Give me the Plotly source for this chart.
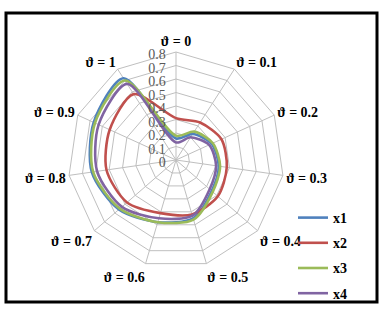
import plotly.graph_objects as go

categories = ["ϑ = 0", "ϑ = 0.1", "ϑ = 0.2", "ϑ = 0.3", "ϑ = 0.4", "ϑ = 0.5",
              "ϑ = 0.6", "ϑ = 0.7", "ϑ = 0.8", "ϑ = 0.9", "ϑ = 1"]
x1 = [0.16, 0.23, 0.29, 0.32, 0.35, 0.45, 0.48, 0.56, 0.63, 0.67, 0.72]
x2 = [0.31, 0.33, 0.37, 0.38, 0.41, 0.42, 0.41, 0.48, 0.52, 0.54, 0.58]
x3 = [0.18, 0.25, 0.30, 0.33, 0.36, 0.46, 0.48, 0.55, 0.62, 0.66, 0.70]
x4 = [0.13, 0.20, 0.27, 0.30, 0.33, 0.43, 0.45, 0.53, 0.59, 0.63, 0.67]
radial_ticks = [0, 0.1, 0.2, 0.3, 0.4, 0.5, 0.6, 0.7, 0.8]
radial_labels = ["0", "0.1", "0.2", "0.3", "0.4", "0.5", "0.6", "0.7", "0.8"]
series_names = ["x1", "x2", "x3", "x4"]
colors = ["#4F81BD", "#C0504D", "#9BBB59", "#8064A2"]

fig = go.Figure()
for name, vals, col in zip(series_names, [x1, x2, x3, x4], colors):
    fig.add_trace(go.Scatterpolar(
        r=vals + vals[:1],
        theta=categories + categories[:1],
        mode="lines",
        name=name,
        legendgroup=name,
        line=dict(color=col, width=2.6, shape="spline", smoothing=0.8),
    ))

W, H = 385, 312
cx, cy, R = 176, 160, 108
fig.update_layout(
    width=W, height=H,
    margin=dict(l=0, r=0, t=0, b=0),
    paper_bgcolor="white",
    plot_bgcolor="white",
    font=dict(family="Liberation Serif", size=12, color="#000000"),
    polar=dict(
        domain=dict(x=[(cx - R) / W, (cx + R) / W],
                    y=[(H - cy - R) / H, (H - cy + R) / H]),
        bgcolor="white",
        gridshape="linear",
        radialaxis=dict(
            range=[0, 0.8], tickvals=radial_ticks, ticktext=radial_labels,
            ticksuffix="\u00a0\u00a0",
            angle=90, side="counterclockwise",
            showline=False, ticks="", color="#595959",
            gridcolor="#BFBFBF", gridwidth=1,
            tickfont=dict(family="Liberation Serif", size=14, color="#595959"),
        ),
        angularaxis=dict(
            direction="clockwise", rotation=90,
            showline=True, linecolor="#BFBFBF", linewidth=1,
            gridcolor="#BFBFBF", gridwidth=1, ticks="",
            tickfont=dict(family="Liberation Serif", size=14, color="#000000",
                          weight="bold"),
        ),
    ),
    legend=dict(
        x=293 / W, y=(H - 202) / H, xanchor="left", yanchor="top",
        font=dict(family="Liberation Serif", size=14, color="#000000", weight="bold"),
        tracegroupgap=4, itemwidth=30, bgcolor="rgba(0,0,0,0)",
        traceorder="grouped",
    ),
    shapes=[dict(type="rect", xref="paper", yref="paper",
                 x0=6 / W, x1=377 / W, y0=(H - 302) / H, y1=(H - 13) / H,
                 line=dict(color="black", width=3))],
)

fig.write_html("out.html", config={"displayModeBar": False},
               post_script="document.body.style.margin='0';")
